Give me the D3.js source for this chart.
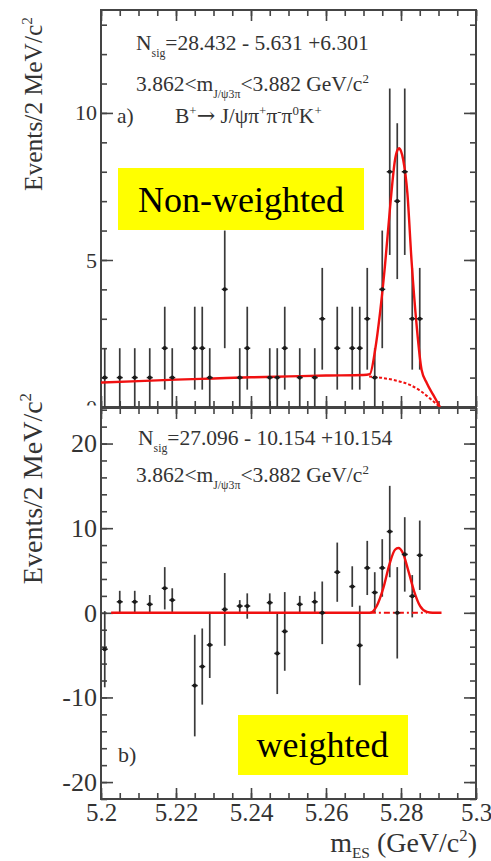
<!DOCTYPE html>
<html>
<head>
<meta charset="utf-8">
<script src="https://cdn.jsdelivr.net/npm/d3@7"></script>
<style>
  html, body { margin: 0; padding: 0; background: #fff; }
  svg { display: block; }
</style>
</head>
<body>
<svg id="chart" width="491" height="861"></svg>
<script>
// m_ES bin centres (2 MeV bins) that hold entries
const binCenters = [5.201, 5.205, 5.209, 5.213, 5.217, 5.219, 5.225, 5.227, 5.229, 5.233,
  5.237, 5.239, 5.245, 5.247, 5.249, 5.253, 5.257, 5.259, 5.263, 5.267,
  5.269, 5.271, 5.273, 5.275, 5.277, 5.279, 5.281, 5.283, 5.285];

// a) non-weighted event counts and their errors
const topCounts = [1, 1, 1, 1, 2, 1, 2, 2, 1, 4, 1, 2, 1, 1, 2, 1, 1, 3, 2, 2, 2, 3, 1, 4, 8, 7, 8, 3, 3];
const topErrors = [1, 1, 1, 1, 1.41, 1, 1.41, 1.41, 1, 2, 1, 1.41, 1, 1, 1.41, 1, 1, 1.73, 1.41, 1.41,
  1.41, 1.73, 1, 2, 2.83, 2.65, 2.83, 1.73, 1.73];

// b) weighted yields and their errors
const bottomValues = [-4.3, 1.3, 1.3, 1.0, 2.9, 1.5, -8.6, -6.35, -3.8, 0.4, 0.8, 0.8, 1.2, -4.8, -2.2,
  1.0, 1.3, 0, 4.8, 3.1, -3.85, 5.3, 2.4, 5.3, 9.6, 0, 6.9, 1.96, 6.8];
const bottomErrors = [4.5, 1.3, 1.3, 1.1, 2.5, 1.4, 6.0, 4.5, 3.9, 4.3, 0.7, 1.5, 1.1, 4.8, 4.65,
  1.0, 1.2, 3.7, 3.5, 2.4, 4.7, 3.2, 2.4, 3.4, 5.4, 5.4, 4.4, 2.5, 4.1];

// fit curves, sampled along m_ES
const topFitX = [5.2000, 5.2100, 5.2200, 5.2300, 5.2400, 5.2500, 5.2600, 5.2700, 5.2717, 5.2731,
  5.2744, 5.2757, 5.2771, 5.2784, 5.2790, 5.2795, 5.2800, 5.2806, 5.2817, 5.2828, 5.2842,
  5.2855, 5.2869, 5.2886, 5.2904];
const topFitY = [0.83, 0.88, 0.93, 0.97, 1.01, 1.04, 1.07, 1.09, 1.12, 1.94,
  3.19, 4.77, 6.81, 8.40, 8.72, 8.80, 8.70, 8.40, 7.27, 5.00, 2.73,
  1.26, 0.81, 0.41, 0.00];
const topBkgX = [5.2715, 5.2750, 5.2780, 5.2824, 5.2855, 5.2882, 5.2904];
const topBkgY = [1.04, 0.99, 0.92, 0.75, 0.52, 0.24, 0.00];

const bottomFitX = [5.2027, 5.2717, 5.2735, 5.2753, 5.2769, 5.2784, 5.2793, 5.2805, 5.2820,
  5.2835, 5.2851, 5.2869, 5.2884, 5.2908];
const bottomFitY = [0, 0, 0.78, 2.94, 5.70, 7.45, 7.65, 7.06, 4.90, 2.54, 0.78, 0.10, 0, 0];
const bottomBkgX = [5.2717, 5.2869];
const bottomBkgY = [0, 0];

// axis ticks
const xMajor = [5.2, 5.22, 5.24, 5.26, 5.28, 5.3];
const xMinor = d3.range(0, 21).map(i => 5.2 + i * 0.005);
const topYMajor = [0, 5, 10];
const topYMinor = d3.range(0, 14);
const bottomYMajor = [-20, -10, 0, 10, 20];
const bottomYMinor = d3.range(-22, 25, 2);

const svg = d3.select("#chart");
const serif = "'Liberation Serif', 'Times New Roman', 'DejaVu Serif', serif";
const ink = "#333";
const frameCol = "#444";

const L = 101, R = 476;
const x = d3.scaleLinear().domain([5.2, 5.3]).range([L, R]);
const yTop = d3.scaleLinear().domain([0, 13.5]).range([407, 10]);
const yBot = d3.scaleLinear().domain([-22, 24.2]).range([799, 408]);

svg.append("defs").append("clipPath").attr("id", "topLabels")
  .append("rect").attr("x", 0).attr("y", 0).attr("width", 491).attr("height", 405.5);

// plain hyphen for negative numbers
const intFmt = d => String(d);

function styleAxis(g, fontSize) {
  g.select(".domain").remove();
  g.selectAll(".tick line").attr("stroke", frameCol).attr("stroke-width", 1.6);
  g.selectAll("text").attr("font-family", serif).attr("font-size", fontSize).attr("fill", ink);
}

function drawFrameAndAxes(y, top, bottom, yMajor, yMinor, fontY, showX, fontX, clip) {
  // left: labelled majors
  const holder = svg.append("g");
  if (clip) holder.attr("clip-path", "url(#topLabels)");
  const gl = holder.append("g").attr("transform", `translate(${L},0)`)
    .call(d3.axisLeft(y).tickValues(yMajor).tickSizeInner(-12).tickSizeOuter(0).tickPadding(4).tickFormat(intFmt));
  styleAxis(gl, fontY);
  svg.append("g").attr("transform", `translate(${L},0)`)
    .call(d3.axisLeft(y).tickValues(yMinor).tickSizeInner(-6).tickSizeOuter(0).tickFormat(""))
    .call(g => styleAxis(g, fontY));
  // right: ticks only
  svg.append("g").attr("transform", `translate(${R},0)`)
    .call(d3.axisRight(y).tickValues(yMajor).tickSizeInner(-12).tickSizeOuter(0).tickFormat(""))
    .call(g => styleAxis(g, fontY));
  svg.append("g").attr("transform", `translate(${R},0)`)
    .call(d3.axisRight(y).tickValues(yMinor).tickSizeInner(-6).tickSizeOuter(0).tickFormat(""))
    .call(g => styleAxis(g, fontY));
  // bottom
  const gb = svg.append("g").attr("transform", `translate(0,${bottom})`)
    .call(d3.axisBottom(x).tickValues(xMajor).tickSizeInner(-11).tickSizeOuter(0).tickPadding(4)
      .tickFormat(showX ? (d => String(+d.toFixed(2))) : ""));
  styleAxis(gb, fontX);
  svg.append("g").attr("transform", `translate(0,${bottom})`)
    .call(d3.axisBottom(x).tickValues(xMinor).tickSizeInner(-6).tickSizeOuter(0).tickFormat(""))
    .call(g => styleAxis(g, fontX));
  // top
  svg.append("g").attr("transform", `translate(0,${top})`)
    .call(d3.axisTop(x).tickValues(xMajor).tickSizeInner(-11).tickSizeOuter(0).tickFormat(""))
    .call(g => styleAxis(g, fontX));
  svg.append("g").attr("transform", `translate(0,${top})`)
    .call(d3.axisTop(x).tickValues(xMinor).tickSizeInner(-6).tickSizeOuter(0).tickFormat(""))
    .call(g => styleAxis(g, fontX));
  svg.append("rect").attr("x", L).attr("y", top).attr("width", R - L).attr("height", bottom - top)
    .attr("fill", "none").attr("stroke", frameCol).attr("stroke-width", 2);
}

function drawPoints(y, values, errors, fitX, fitY, bkgX, bkgY, bkgDash) {
  const pts = binCenters.map((c, i) => ({ c, v: values[i], e: errors[i] }));
  const g = svg.append("g");
  g.selectAll("line.err").data(pts).join("line").attr("class", "err")
    .attr("x1", d => x(d.c)).attr("x2", d => x(d.c))
    .attr("y1", d => y(d.v + d.e)).attr("y2", d => y(d.v - d.e))
    .attr("stroke", "#3a3a3a").attr("stroke-width", 1.7);
  const line = d3.line().x(d => x(d[0])).y(d => y(d[1])).curve(d3.curveMonotoneX);
  g.append("path").datum(bkgX.map((v, i) => [v, bkgY[i]])).attr("d", line)
    .attr("fill", "none").attr("stroke", "#f01010").attr("stroke-width", 2)
    .attr("stroke-dasharray", bkgDash);
  g.append("path").datum(fitX.map((v, i) => [v, fitY[i]])).attr("d", line)
    .attr("fill", "none").attr("stroke", "#f01010").attr("stroke-width", 2.4)
    .attr("stroke-linejoin", "round");
  g.selectAll("line.bin").data(pts).join("line").attr("class", "bin")
    .attr("x1", d => x(d.c) - 3).attr("x2", d => x(d.c) + 3)
    .attr("y1", d => y(d.v)).attr("y2", d => y(d.v))
    .attr("stroke", "#222").attr("stroke-width", 1.5);
  g.selectAll("circle").data(pts).join("circle")
    .attr("cx", d => x(d.c)).attr("cy", d => y(d.v)).attr("r", 2.1).attr("fill", "#1a1a1a");
}

// rich text helper: parts = [[text, "n"|"sub"|"sup"], ...]
function richText(px, py, parts, size, anchor, color, subShift) {
  const t = svg.append("text").attr("x", px).attr("y", py)
    .attr("font-family", serif).attr("font-size", size).attr("fill", color || ink)
    .attr("text-anchor", anchor || "start");
  let shift = 0;
  parts.forEach(([s, kind]) => {
    let target = 0, fs = size;
    if (kind === "sub") { target = size * (subShift || 0.32); fs = size * 0.55; }
    if (kind === "sup") { target = -size * 0.38; fs = size * 0.6; }
    t.append("tspan").attr("dy", target - shift).attr("font-size", fs).text(s);
    shift = target;
  });
  return t;
}

// ---------- panel a) ----------
drawFrameAndAxes(yTop, 10, 407, topYMajor, topYMinor, 22, false, 22, true);
drawPoints(yTop, topCounts, topErrors, topFitX, topFitY, topBkgX, topBkgY, "3,2");

richText(136, 50, [["N", "n"], ["sig", "sub"], ["=28.432 - 5.631 +6.301", "n"]], 21.5);
richText(136, 91, [["3.862<m", "n"], ["J/ψ3π", "sub"], ["<3.882 GeV/c", "n"], ["2", "sup"]], 21.5);
richText(117, 123, [["a)", "n"]], 21.5);
richText(175, 123, [["B", "n"], ["+", "sup"], ["→", "n"], [" J/ψπ", "n"], ["+", "sup"], ["π", "n"], ["-", "sup"],
  ["π", "n"], ["0", "sup"], ["K", "n"], ["+", "sup"]], 21.5)
  .select("tspan:nth-child(3)").attr("font-family", "'DejaVu Serif', serif").attr("font-size", 22);

svg.append("rect").attr("x", 118).attr("y", 168).attr("width", 246).attr("height", 62).attr("fill", "#ffff00");
svg.append("text").attr("x", 241).attr("y", 212).attr("text-anchor", "middle")
  .attr("font-family", serif).attr("font-size", 36).attr("fill", "#000").text("Non-weighted");

richText(0, 0, [["Events/2 MeV/c", "n"], ["2", "sup"]], 25.5, "end")
  .attr("transform", "translate(42,17) rotate(-90)");

// ---------- panel b) ----------
drawFrameAndAxes(yBot, 408, 799, bottomYMajor, bottomYMinor, 26, true, 25, false);
drawPoints(yBot, bottomValues, bottomErrors, bottomFitX, bottomFitY, bottomBkgX, bottomBkgY, "6,3,2,3");

richText(138, 445, [["N", "n"], ["sig", "sub"], ["=27.096 - 10.154 +10.154", "n"]], 21.5);
richText(136, 482, [["3.862<m", "n"], ["J/ψ3π", "sub"], ["<3.882 GeV/c", "n"], ["2", "sup"]], 21.5);
richText(118, 762, [["b)", "n"]], 22);

svg.append("rect").attr("x", 238).attr("y", 715).attr("width", 170).attr("height", 60).attr("fill", "#ffff00");
svg.append("text").attr("x", 322.5).attr("y", 757).attr("text-anchor", "middle")
  .attr("font-family", serif).attr("font-size", 36).attr("fill", "#000").text("weighted");

richText(0, 0, [["Events/2 MeV/c", "n"], ["2", "sup"]], 28, "end")
  .attr("transform", "translate(42,393) rotate(-90)");

richText(477, 852, [["m", "n"], ["ES", "sub"], [" (GeV/c", "n"], ["2", "sup"], [")", "n"]], 28, "end", ink, 0.2);
</script>
</body>
</html>
